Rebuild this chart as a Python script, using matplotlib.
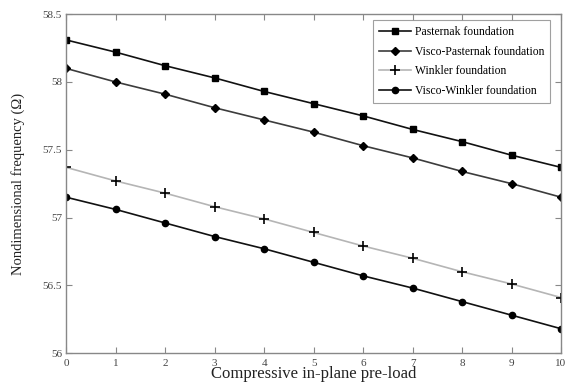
import matplotlib
matplotlib.use("Agg")
import matplotlib.pyplot as plt
import numpy as np

preload = [0, 1, 2, 3, 4, 5, 6, 7, 8, 9, 10]
pasternak = [58.31, 58.22, 58.12, 58.03, 57.93, 57.84, 57.75, 57.65, 57.56, 57.46, 57.37]
visco_pasternak = [58.10, 58.00, 57.91, 57.81, 57.72, 57.63, 57.53, 57.44, 57.34, 57.25, 57.15]
winkler = [57.37, 57.27, 57.18, 57.08, 56.99, 56.89, 56.79, 56.70, 56.60, 56.51, 56.41]
visco_winkler = [57.15, 57.06, 56.96, 56.86, 56.77, 56.67, 56.57, 56.48, 56.38, 56.28, 56.18]

labels = ["Pasternak foundation", "Visco-Pasternak foundation",
          "Winkler foundation", "Visco-Winkler foundation"]
xticks = [0, 1, 2, 3, 4, 5, 6, 7, 8, 9, 10]
yticks = [56, 56.5, 57, 57.5, 58, 58.5]
yticklabels = ["56", "56.5", "57", "57.5", "58", "58.5"]

plt.rcParams['font.family'] = ['Liberation Serif', 'DejaVu Serif']

fig = plt.figure(figsize=(5.65, 3.83), dpi=100)
ax = fig.add_axes([0.117, 0.078, 0.876, 0.885])

ax.plot(preload, pasternak, color='#111111', lw=1.2, marker='s', ms=4, mfc='black', mec='black', label=labels[0])
ax.plot(preload, visco_pasternak, color='#3c3c3c', lw=1.2, marker='D', ms=4, mfc='black', mec='black', label=labels[1])
ax.plot(preload, winkler, color='#b5b5b5', lw=1.2, marker='+', ms=7, mew=1.2, mfc='black', mec='black', label=labels[2])
ax.plot(preload, visco_winkler, color='#111111', lw=1.2, marker='o', ms=4.5, mfc='black', mec='black', label=labels[3])

ax.set_xlim(0, 10)
ax.set_ylim(56, 58.5)
ax.set_xticks(xticks)
ax.set_yticks(yticks)
ax.set_yticklabels(yticklabels)
ax.tick_params(direction='in', length=4, width=0.8, color='#888888',
               labelsize=8, labelcolor='#444444', top=True, right=True)
ax.tick_params(axis='x', pad=4)
ax.tick_params(axis='y', pad=3)
for s in ax.spines.values():
    s.set_color('#888888')
    s.set_linewidth(1.0)

ax.set_xlabel("Compressive in-plane pre-load", fontsize=12, color='#222222', labelpad=-1)
ax.set_ylabel("Nondimensional frequency (\u03a9)", fontsize=10.5, color='#222222', labelpad=13)

leg = ax.legend(loc='upper right', bbox_to_anchor=(0.978, 0.982), fontsize=8.4,
                frameon=True, fancybox=False, handlelength=2.8, handletextpad=0.3,
                labelspacing=0.65, borderpad=0.5, borderaxespad=0.0)
leg.get_frame().set_edgecolor('#888888')
leg.get_frame().set_linewidth(0.8)

fig.savefig("out.png", dpi=100)
